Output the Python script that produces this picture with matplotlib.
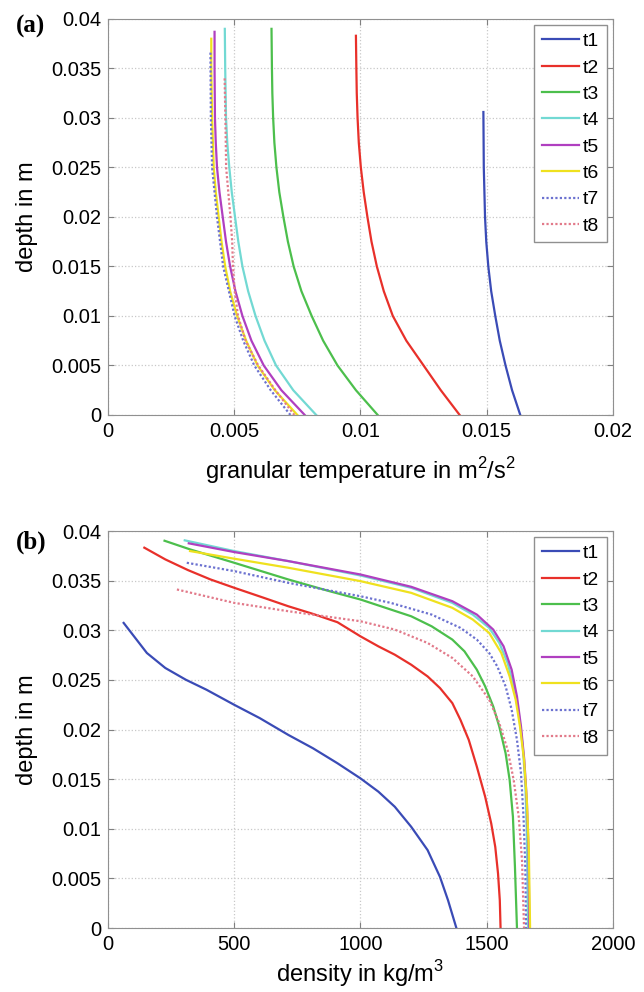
import numpy as np
import matplotlib
matplotlib.use("Agg")
import matplotlib.pyplot as plt

plt.rcParams['font.family'] = ['Liberation Sans', 'DejaVu Sans']
plt.rcParams['mathtext.fontset'] = 'custom'
plt.rcParams['mathtext.rm'] = 'Liberation Sans'

labels = ['t1', 't2', 't3', 't4', 't5', 't6', 't7', 't8']
colors = ['#3a4bb6', '#e8302a', '#4cbf4c', '#72d9d3', '#b03fc0', '#efe11e', '#6c72d0', '#e27a8a']
styles = ['-', '-', '-', '-', '-', '-', (0, (1, 1)), (0, (1, 1))]

# (a) granular temperature [m^2/s^2] vs depth [m]
temp_depth = [
    [0.0306, 0.025, 0.02, 0.0175, 0.015, 0.0125, 0.01, 0.0075, 0.005, 0.0025, 0.0],
    [0.0383, 0.035, 0.0325, 0.03, 0.0275, 0.025, 0.0225, 0.02, 0.0175, 0.015, 0.0125, 0.01, 0.0075, 0.005, 0.0025, 0.0],
    [0.0390, 0.035, 0.0325, 0.03, 0.0275, 0.025, 0.0225, 0.02, 0.0175, 0.015, 0.0125, 0.01, 0.0075, 0.005, 0.0025, 0.0],
    [0.0390, 0.035, 0.03, 0.0275, 0.025, 0.0225, 0.02, 0.0175, 0.015, 0.0125, 0.01, 0.0075, 0.005, 0.0025, 0.0],
    [0.0387, 0.035, 0.03, 0.0275, 0.025, 0.0225, 0.02, 0.0175, 0.015, 0.0125, 0.01, 0.0075, 0.005, 0.0025, 0.0],
    [0.0380, 0.035, 0.03, 0.0275, 0.025, 0.0225, 0.02, 0.0175, 0.015, 0.0125, 0.01, 0.0075, 0.005, 0.0025, 0.0],
    [0.0366, 0.03, 0.025, 0.02, 0.015, 0.01, 0.0075, 0.005, 0.0025, 0.0],
    [0.0340, 0.03, 0.025, 0.02, 0.0175, 0.015, 0.0125, 0.01, 0.0075, 0.005, 0.0025, 0.0],
]
temp_vals = [
    [0.01487, 0.014886, 0.014935, 0.014984, 0.015065, 0.015179, 0.015341, 0.015519, 0.015747, 0.016006, 0.016331],
    [0.009821, 0.009838, 0.009854, 0.009886, 0.009935, 0.010016, 0.01013, 0.010276, 0.010438, 0.01065,
     0.010925, 0.011282, 0.011818, 0.0125, 0.013182, 0.013929],
    [0.006477, 0.006494, 0.00651, 0.006542, 0.006591, 0.006672, 0.006786, 0.006948, 0.007127, 0.007354,
     0.007662, 0.008068, 0.008523, 0.009091, 0.009821, 0.010682],
    [0.004627, 0.004643, 0.004675, 0.004724, 0.004805, 0.004903, 0.005032, 0.005162, 0.005325, 0.005552,
     0.005844, 0.006201, 0.006656, 0.007338, 0.008247],
    [0.004221, 0.004221, 0.004237, 0.004269, 0.004318, 0.004416, 0.004545, 0.004675, 0.004838, 0.005049,
     0.005325, 0.005682, 0.006169, 0.006867, 0.007792],
    [0.004091, 0.004091, 0.004123, 0.004156, 0.004188, 0.004269, 0.004383, 0.004497, 0.004643, 0.004838,
     0.005114, 0.005471, 0.005925, 0.006607, 0.0075],
    [0.004058, 0.004075, 0.004123, 0.004318, 0.004562, 0.005016, 0.005357, 0.005795, 0.006445, 0.007224],
    [0.00462, 0.00465, 0.00468, 0.00485, 0.00492, 0.00495, 0.00502, 0.00515, 0.00545, 0.00595, 0.00663, 0.00738],
]

# (b) density [kg/m^3] vs depth [m]
dens_depth = [
    [0.03074, 0.02771, 0.0262, 0.02502, 0.02401, 0.02249, 0.02115, 0.01946, 0.01811, 0.0166, 0.01508,
     0.01374, 0.01222, 0.0102, 0.00785, 0.00515, 0.00279, 0.0],
    [0.03832, 0.03714, 0.03606, 0.03512, 0.03428, 0.03327, 0.03242, 0.03165, 0.03081, 0.02939, 0.02838,
     0.02754, 0.02653, 0.02535, 0.02418, 0.02266, 0.02098, 0.01896, 0.01626, 0.01323, 0.01054, 0.00818,
     0.00549, 0.00279, 0.0],
    [0.03902, 0.03815, 0.0368, 0.03512, 0.03394, 0.0331, 0.03209, 0.03141, 0.0304, 0.02906, 0.02788,
     0.02603, 0.02435, 0.02232, 0.0203, 0.01761, 0.01492, 0.01121, 0.00616, 0.0],
    [0.03906, 0.03798, 0.03697, 0.03552, 0.03428, 0.03276, 0.03158, 0.03024, 0.02872, 0.0267, 0.02435,
     0.02165, 0.01828, 0.01458, 0.00953, 0.0],
    [0.03876, 0.03788, 0.03697, 0.03562, 0.03438, 0.03293, 0.03158, 0.03007, 0.02838, 0.02603, 0.02333,
     0.0203, 0.01694, 0.0129, 0.00785, 0.0],
    [0.03798, 0.03721, 0.0363, 0.03495, 0.03377, 0.03226, 0.03108, 0.02973, 0.02771, 0.02535, 0.023,
     0.0203, 0.01694, 0.0129, 0.00785, 0.0],
    [0.0368, 0.03596, 0.03478, 0.03343, 0.03276, 0.03158, 0.03024, 0.02906, 0.02771, 0.02636, 0.02435,
     0.02199, 0.01896, 0.01559, 0.01121, 0.00616, 0.0],
    [0.03411, 0.03276, 0.03192, 0.03091, 0.03007, 0.02872, 0.02721, 0.02535, 0.023, 0.02064, 0.01795,
     0.01492, 0.01121, 0.00684, 0.0],
]
dens_vals = [
    [62, 154, 227, 308, 390, 500, 601, 714, 812, 909, 1000, 1071, 1136, 1201, 1266, 1315, 1347, 1380],
    [144, 227, 317, 406, 500, 617, 714, 812, 909, 1000, 1071, 1136, 1201, 1266, 1315, 1364, 1396, 1429,
     1461, 1494, 1518, 1534, 1545, 1552, 1555],
    [224, 325, 500, 714, 877, 1000, 1120, 1201, 1282, 1364, 1412, 1461, 1494, 1526, 1550, 1575, 1591,
     1604, 1612, 1620],
    [304, 500, 714, 1000, 1201, 1364, 1445, 1510, 1550, 1583, 1607, 1627, 1643, 1653, 1659, 1664],
    [320, 500, 714, 1000, 1201, 1364, 1461, 1526, 1567, 1599, 1620, 1636, 1649, 1659, 1666, 1669],
    [325, 500, 714, 1000, 1201, 1364, 1445, 1510, 1558, 1591, 1615, 1632, 1648, 1659, 1667, 1672],
    [312, 500, 714, 1000, 1120, 1282, 1396, 1461, 1510, 1542, 1575, 1599, 1620, 1636, 1646, 1653, 1656],
    [273, 500, 714, 1000, 1136, 1266, 1364, 1445, 1510, 1550, 1583, 1607, 1627, 1640, 1648],
]

depth_ticks = [0, 0.005, 0.01, 0.015, 0.02, 0.025, 0.03, 0.035, 0.04]
depth_ticklabels = ['0', '0.005', '0.01', '0.015', '0.02', '0.025', '0.03', '0.035', '0.04']
temp_ticks = [0, 0.005, 0.01, 0.015, 0.02]
temp_ticklabels = ['0', '0.005', '0.01', '0.015', '0.02']
dens_ticks = [0, 500, 1000, 1500, 2000]


def style_axes(ax):
    ax.grid(True, linestyle=':', color='#c8c8c8', linewidth=0.9)
    ax.tick_params(direction='in', top=True, right=True, labelsize=14.5,
                   length=4, color='#808080', pad=5)
    for s in ax.spines.values():
        s.set_color('#909090')
    ax.set_ylim(0, 0.04)
    ax.set_yticks(depth_ticks)
    ax.set_yticklabels(depth_ticklabels)
    ax.set_ylabel('depth in m', fontsize=17, labelpad=9)
    leg = ax.legend(loc='upper right', fontsize=14, handlelength=1.9, labelspacing=0.45,
                    borderaxespad=0.3, fancybox=False, handletextpad=0.2, borderpad=0.4)
    leg.get_frame().set_edgecolor('#909090')
    leg.get_frame().set_linewidth(1.0)
    leg.get_frame().set_alpha(1.0)


fig = plt.figure(figsize=(6.44, 9.92), dpi=100)
ax1 = fig.add_axes([0.1677, 0.5817, 0.784, 0.3992])
ax2 = fig.add_axes([0.1677, 0.0645, 0.784, 0.4002])

for i in range(8):
    ax1.plot(temp_vals[i], temp_depth[i], color=colors[i], linestyle=styles[i], linewidth=1.6, label=labels[i])
    ax2.plot(dens_vals[i], dens_depth[i], color=colors[i], linestyle=styles[i], linewidth=1.6, label=labels[i])

ax1.set_xlim(0, 0.02)
ax1.set_xticks(temp_ticks)
ax1.set_xticklabels(temp_ticklabels)
ax1.set_xlabel('granular temperature in m$^2$/s$^2$', fontsize=17, labelpad=10)
style_axes(ax1)

ax2.set_xlim(0, 2000)
ax2.set_xticks(dens_ticks)
ax2.set_xlabel('density in kg/m$^3$', fontsize=17, labelpad=3)
style_axes(ax2)

fig.text(0.024, 0.973, '(a)', fontsize=18, fontweight='bold', family='Liberation Serif', va='center')
fig.text(0.024, 0.453, '(b)', fontsize=18, fontweight='bold', family='Liberation Serif', va='center')

fig.savefig('out.png', dpi=100)
